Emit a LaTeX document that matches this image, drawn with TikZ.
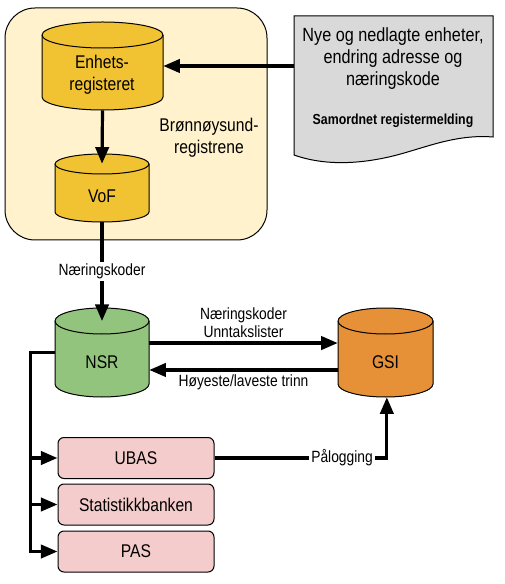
\documentclass[tikz,border=0pt]{standalone}
\usepackage{fontspec}
\setmainfont[FakeStretch=0.85]{Liberation Sans}
\usetikzlibrary{arrows.meta,fit}
\definecolor{bgy}{HTML}{FFF2CC}
\definecolor{cyly}{HTML}{F1C232}
\definecolor{docg}{HTML}{D9D9D9}
\definecolor{cylg}{HTML}{93C47D}
\definecolor{cylo}{HTML}{E69138}
\definecolor{boxp}{HTML}{F4CCCC}
\newcommand\mylblfont{\fontsize{13.8}{16.5}\selectfont}
\newcommand\mysmallfont{\fontsize{12.2}{14}\selectfont}
\newcommand\mydocfont{\fontsize{14.3}{16.5}\selectfont}
\newcommand\mybfont{\fontsize{10.9}{13}\selectfont\bfseries}
% name, x1, ytop, x2, ybot, ry, color
\newcommand\dbcyl[7]{%
  \filldraw[fill=#7, line width=0.75pt] (#2,-#3-#6) -- (#2,-#5+#6)
    arc[start angle=180,end angle=360,x radius={(#4-#2)*0.375pt},y radius={#6*0.75pt}]
    -- (#4,-#3-#6)
    arc[start angle=0,end angle=180,x radius={(#4-#2)*0.375pt},y radius={#6*0.75pt}] -- cycle;
  \draw[line width=0.75pt] (#2,-#3-#6)
    arc[start angle=180,end angle=360,x radius={(#4-#2)*0.375pt},y radius={#6*0.75pt}];
  \path (#2,-#3) coordinate (#1nw) (#4,-#5) coordinate (#1se);
  \node[fit=(#1nw)(#1se), inner sep=0pt] (#1) {};
}
\begin{document}
\begin{tikzpicture}[x=0.75pt,y=0.75pt,
  conn/.style={line width=2.4pt},
  arr/.style={conn, -{Triangle[length=12.5pt,width=10pt]}},
  lbl/.style={align=center, font=\mylblfont, inner sep=1pt},
  slbl/.style={align=center, font=\mysmallfont, inner sep=1.5pt},
  pbox/.style={draw, line width=0.75pt, fill=boxp, rounded corners=4.5pt,
    minimum width=117pt, minimum height=30.75pt, font=\mylblfont}]
\useasboundingbox (0,0) rectangle (504,-584);

% Bronnoysund container
\node[draw, line width=0.75pt, fill=bgy, rounded corners=22.5pt,
  minimum width=196.5pt, minimum height=174pt] (brreg) at (136,-124) {};

\dbcyl{er}{42}{22}{163}{110}{13}{cyly}
\dbcyl{vof}{55}{154}{149}{222}{10}{cyly}
\dbcyl{nsr}{55}{308}{149}{397}{13}{cylg}
\dbcyl{gsi}{338}{308}{433}{397}{13}{cylo}

\node[lbl] (erT) at (102,-75) {Enhets-\\registeret};
\node[lbl] (vofT) at (102,-196) {VoF};
\node[lbl] (nsrT) at (102,-362) {NSR};
\node[lbl] (gsiT) at (385.5,-362) {GSI};
\node[lbl] (brT) at (209,-138) {Brønnøysund-\\registrene};

% document shape
\filldraw[fill=docg, line width=0.75pt] (294,-16) -- (493,-16) -- (493,-137)
  .. controls (455,-134) and (425,-148) .. (393,-156)
  .. controls (360,-164) and (325,-166) .. (294,-155) -- cycle;
\path (294,-16) coordinate (docnw) (493,-160) coordinate (docse);
\node[fit=(docnw)(docse), inner sep=0pt] (doc) {};
\node[align=center, font=\mydocfont, inner sep=0pt] (docT) at (393,-59)
  {Nye og nedlagte enheter,\\endring adresse og\\næringskode};
\node[font=\mybfont, inner sep=0pt] (docB) at (393,-121) {Samordnet registermelding};

% boxes
\node[pbox] (ubas) at (136,-458) {UBAS};
\node[pbox] (stat) at (136,-504.5) {Statistikkbanken};
\node[pbox] (pas) at (136,-551.5) {PAS};

% connectors
\draw[arr] (er.east -| doc.west) -- (er.east);
\draw[arr] (er.south) -- ([yshift=-7.5pt]vof.north);
\draw[arr] (vof.south) -- node[slbl, fill=white] (nk1) {Næringskoder} ([yshift=-10pt]nsr.north);
\draw[arr] ([yshift=7.1pt]nsr.east) -- node[slbl, above=1pt] (nk2) {Næringskoder\\Unntakslister} ([yshift=7.1pt]gsi.west);
\draw[arr] ([yshift=-13.1pt]gsi.west) -- node[slbl, below=1pt] (hl) {Høyeste/laveste trinn} ([yshift=-13.1pt]nsr.east);
\draw[arr] (nsr.west) -- ++(-24,0) |- (ubas.west);
\draw[arr] (nsr.west) -- ++(-24,0) |- (stat.west);
\draw[arr] (nsr.west) -- ++(-24,0) |- (pas.west);
\draw[arr] (ubas.east) -| node[slbl, fill=white, pos=0.37] (pl) {Pålogging} ([xshift=1pt]gsi.south);
\end{tikzpicture}
\end{document}
